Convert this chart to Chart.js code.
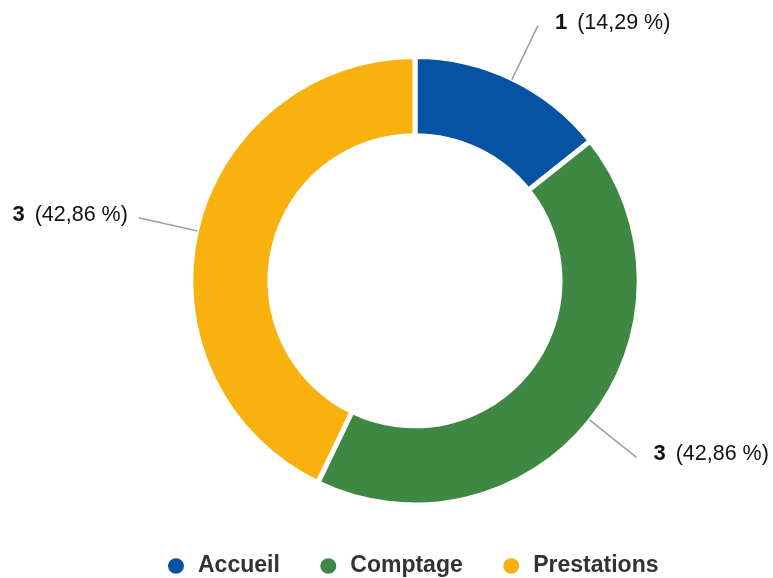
<!DOCTYPE html>
<html>
<head>
<meta charset="utf-8">
<script src="https://cdn.jsdelivr.net/npm/chart.js@4"></script>
<style>
  html, body { margin: 0; padding: 0; background: #ffffff; }
  #wrap { width: 773px; height: 578px; position: relative; }
</style>
</head>
<body>
<div id="wrap"><canvas id="c" width="773" height="578"></canvas></div>
<script>
const categories = ['Accueil', 'Comptage', 'Prestations'];
const values = [1, 3, 3];
const colors = ['#0753A3', '#3E8843', '#F9B10F'];

const total = values.reduce((a, b) => a + b, 0);
const pctText = v => '(' + (v / total * 100).toFixed(2).replace('.', ',') + ' %)';

const FONT = '"Liberation Sans", Arial, Helvetica, sans-serif';

// Place chart area and legend to match the reference layout
const placeBoxes = {
  id: 'placeBoxes',
  afterLayout(chart) {
    const a = chart.chartArea;
    a.top = 54; a.bottom = 507.5; a.height = a.bottom - a.top;
    a.left = 115; a.right = 715; a.width = a.right - a.left;
    const lg = chart.legend;
    const h = lg.bottom - lg.top;
    lg.top = 516.5; lg.bottom = lg.top + h;
  }
};

const outsideLabels = {
  id: 'outsideLabels',
  afterDatasetsDraw(chart) {
    const ctx = chart.ctx;
    const meta = chart.getDatasetMeta(0);
    meta.data.forEach((arc, i) => {
      const p = arc.getProps(['x', 'y', 'startAngle', 'endAngle', 'outerRadius'], true);
      const mid = (p.startAngle + p.endAngle) / 2;
      const c = Math.cos(mid), s = Math.sin(mid);
      const r1 = p.outerRadius - 1;
      const r2 = p.outerRadius + 59;
      const x1 = p.x + r1 * c, y1 = p.y + r1 * s;
      const x2 = p.x + r2 * c, y2 = p.y + r2 * s;
      ctx.save();
      ctx.strokeStyle = '#9c9cab';
      ctx.lineWidth = 1.5;
      ctx.beginPath();
      ctx.moveTo(x1, y1);
      ctx.lineTo(x2, y2);
      ctx.stroke();
      const bold = 'bold 22px ' + FONT;
      const norm = '21.5px ' + FONT;
      const vTxt = String(values[i]);
      const pTxt = pctText(values[i]);
      ctx.textBaseline = 'alphabetic';
      ctx.fillStyle = '#111111';
      ctx.font = bold;
      const wv = ctx.measureText(vTxt).width;
      ctx.font = norm;
      const wp = ctx.measureText(pTxt).width;
      const gap = 10;
      const by = y2 + 3;
      let xs;
      if (c >= 0) xs = x2 + 17;
      else xs = x2 - 11 - (wv + gap + wp);
      ctx.textAlign = 'left';
      ctx.font = bold;
      ctx.fillText(vTxt, xs, by);
      ctx.font = norm;
      ctx.fillText(pTxt, xs + wv + gap, by);
      ctx.restore();
    });
  }
};

new Chart(document.getElementById('c'), {
  type: 'doughnut',
  data: {
    labels: categories,
    datasets: [{
      data: values,
      backgroundColor: colors,
      borderColor: '#ffffff',
      borderWidth: 5,
      hoverOffset: 0
    }]
  },
  options: {
    responsive: false,
    animation: false,
    cutout: '64.7%',
    layout: { padding: { top: 54, bottom: 0, left: 51, right: 0 } },
    plugins: {
      tooltip: { enabled: false },
      legend: {
        position: 'bottom',
        labels: {
          usePointStyle: true,
          pointStyle: 'circle',
          pointStyleWidth: 21,
          boxHeight: 14.5,
          padding: 38,
          color: '#333333',
          font: { family: FONT, size: 23, weight: 'bold' }
        }
      }
    }
  },
  plugins: [placeBoxes, outsideLabels]
});
</script>
</body>
</html>
